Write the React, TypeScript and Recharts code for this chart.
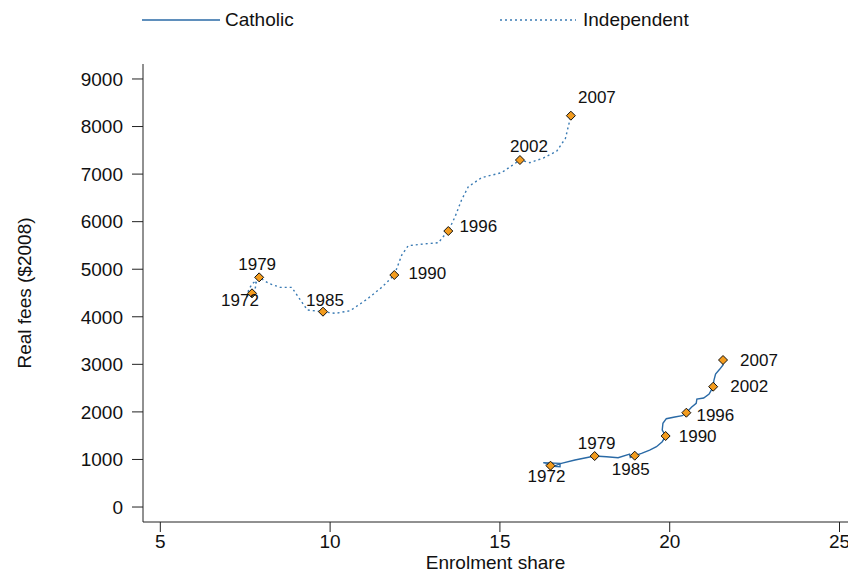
import { ComposedChart, Line, Scatter, XAxis, YAxis } from "recharts";

const FONT = '"Liberation Sans", Arial, Helvetica, sans-serif';

const years = [
    1972, 1973, 1974, 1975, 1976, 1977, 1978, 1979, 1980, 1981, 1982, 1983,
    1984, 1985, 1986, 1987, 1988, 1989, 1990, 1991, 1992, 1993, 1994, 1995,
    1996, 1997, 1998, 1999, 2000, 2001, 2002, 2003, 2004, 2005, 2006, 2007,
];

// enrolment share (%) and real fees ($2008), one value per year
const catholicShare = [
    16.49, 16.28, 16.77, 16.77, 16.57, 16.81, 17.21, 17.79, 18.14, 18.48, 18.82, 18.84,
    18.92, 18.97, 19.17, 19.41, 19.61, 19.78, 19.88, 19.78, 19.8, 19.9, 20.15, 20.37,
    20.49, 20.64, 20.78, 20.8, 21.0, 21.16, 21.28, 21.3, 21.35, 21.47, 21.57, 21.57,
];
const catholicFees = [
    869, 932, 918, 848, 855, 918, 988, 1072, 1058, 1037, 1114, 1044,
    1072, 1079, 1128, 1198, 1269, 1374, 1493, 1619, 1759, 1857, 1892, 1920,
    1983, 2096, 2180, 2271, 2292, 2376, 2530, 2656, 2797, 2895, 2986, 3091,
];

const independentShare = [
    7.7, 7.55, 7.6, 7.7, 7.82, 7.79, 7.82, 7.91, 8.19, 8.53, 8.87, 9.07,
    9.33, 9.79, 10.15, 10.59, 11.08, 11.52, 11.89, 12.11, 12.3, 12.75, 13.19, 13.33,
    13.48, 13.68, 13.87, 14.07, 14.46, 15.05, 15.59, 15.88, 16.28, 16.67, 16.93, 17.09,
];
const independentFees = [
    4493, 4437, 4563, 4689, 4759, 4563, 4717, 4829, 4703, 4619, 4619, 4409,
    4142, 4107, 4072, 4128, 4366, 4619, 4878, 5299, 5495, 5530, 5558, 5684,
    5803, 6105, 6455, 6735, 6925, 7030, 7296, 7240, 7338, 7479, 7752, 8228,
];

const labelledYears = [1972, 1979, 1985, 1990, 1996, 2002, 2007];
const xTicks = [5, 10, 15, 20, 25];
const yTicks = [0, 1000, 2000, 3000, 4000, 5000, 6000, 7000, 8000, 9000];

// where each year label sits relative to its marker (text centre)
const catholicLabelPos: Record<number, [number, number]> = {
    1972: [-4, 11],
    1979: [2, -13],
    1985: [-4, 14],
    1990: [32, 0],
    1996: [29, 3],
    2002: [36, 0],
    2007: [36, 0],
};
const independentLabelPos: Record<number, [number, number]> = {
    1972: [-12, 7],
    1979: [-2, -13],
    1985: [2, -11],
    1990: [33, -2],
    1996: [30, -5],
    2002: [9, -14],
    2007: [26, -18],
};

const buildSeries = (share: number[], fees: number[]) =>
    years.map((year, i) => ({ year, x: share[i], y: fees[i] }));

const catholic = buildSeries(catholicShare, catholicFees);
const independent = buildSeries(independentShare, independentFees);

const catholicMarks = catholic.filter((d) => labelledYears.includes(d.year));
const independentMarks = independent.filter((d) => labelledYears.includes(d.year));

const CATHOLIC_COLOR = "#2a6aa6";
const INDEPENDENT_COLOR = "#3a7bb4";

const makeDiamond = (pos: Record<number, [number, number]>) => (props: any) => {
    const { cx, cy, payload } = props;
    if (cx == null || cy == null) return null;
    const [dx, dy] = pos[payload.year] || [0, -12];
    const r = 4.5;
    return (
        <g>
            <path
                d={`M${cx},${cy - r} L${cx + r},${cy} L${cx},${cy + r} L${cx - r},${cy} Z`}
                fill="#f39c1e"
                stroke="#111"
                strokeWidth={1}
            />
            <text
                x={cx + dx}
                y={cy + dy}
                textAnchor="middle"
                dominantBaseline="central"
                fontSize={17}
                fontFamily={FONT}
                fill="#111"
            >
                {payload.year}
            </text>
        </g>
    );
};

const YTitle = (props: any) => {
    const vb = props.viewBox || { x: 0, y: 64, width: 143, height: 458 };
    const x = vb.x + 31;
    const y = vb.y + vb.height / 2;
    return (
        <text
            x={x}
            y={y}
            transform={`rotate(-90, ${x}, ${y})`}
            textAnchor="middle"
            fontSize={19}
            fontFamily={FONT}
            fill="#111"
        >
            Real fees ($2008)
        </text>
    );
};

const App = () => {
    return (
        <div style={{ position: "absolute", left: 0, top: 0, width: 848, height: 572, background: "#fff", fontFamily: FONT }}>
            <ComposedChart width={848} height={572} margin={{ top: 64, right: 0, bottom: 0, left: 0 }}>
                <XAxis
                    type="number"
                    dataKey="x"
                    domain={[4.49, 25.25]}
                    allowDataOverflow
                    ticks={xTicks}
                    interval={0}
                    height={50}
                    tickSize={10}
                    tickMargin={3}
                    stroke="#222"
                    tick={{ fill: "#111", fontSize: 19, fontFamily: FONT }}
                    label={{
                        value: "Enrolment share",
                        position: "insideBottom",
                        offset: 3,
                        style: { fill: "#111", fontSize: 19, fontFamily: FONT },
                    }}
                />
                <YAxis
                    type="number"
                    dataKey="y"
                    domain={[-315, 9315]}
                    allowDataOverflow
                    ticks={yTicks}
                    interval={0}
                    width={143}
                    tickSize={11}
                    tickMargin={9}
                    stroke="#222"
                    tick={{ fill: "#111", fontSize: 19, fontFamily: FONT }}
                    label={<YTitle />}
                />

                <Line
                    data={catholic}
                    dataKey="y"
                    type="linear"
                    stroke={CATHOLIC_COLOR}
                    strokeWidth={1.4}
                    dot={false}
                    activeDot={false}
                    isAnimationActive={false}
                />
                <Line
                    data={independent}
                    dataKey="y"
                    type="linear"
                    stroke={INDEPENDENT_COLOR}
                    strokeWidth={1.4}
                    strokeDasharray="2 3"
                    dot={false}
                    activeDot={false}
                    isAnimationActive={false}
                />

                <Scatter
                    data={catholicMarks}
                    dataKey="y"
                    shape={makeDiamond(catholicLabelPos)}
                    isAnimationActive={false}
                />
                <Scatter
                    data={independentMarks}
                    dataKey="y"
                    shape={makeDiamond(independentLabelPos)}
                    isAnimationActive={false}
                />
            </ComposedChart>

            {/* legend */}
            <div style={{ position: "absolute", left: 142, top: 9, display: "flex", alignItems: "center", fontSize: 19, color: "#111" }}>
                <svg width={78} height={6}>
                    <line x1={0} y1={3} x2={78} y2={3} stroke={CATHOLIC_COLOR} strokeWidth={1.6} />
                </svg>
                <span style={{ marginLeft: 5 }}>Catholic</span>
            </div>
            <div style={{ position: "absolute", left: 500, top: 9, display: "flex", alignItems: "center", fontSize: 19, color: "#111" }}>
                <svg width={76} height={6}>
                    <line x1={0} y1={3} x2={76} y2={3} stroke={INDEPENDENT_COLOR} strokeWidth={1.4} strokeDasharray="2 3" />
                </svg>
                <span style={{ marginLeft: 7 }}>Independent</span>
            </div>
        </div>
    );
};

export default App;
